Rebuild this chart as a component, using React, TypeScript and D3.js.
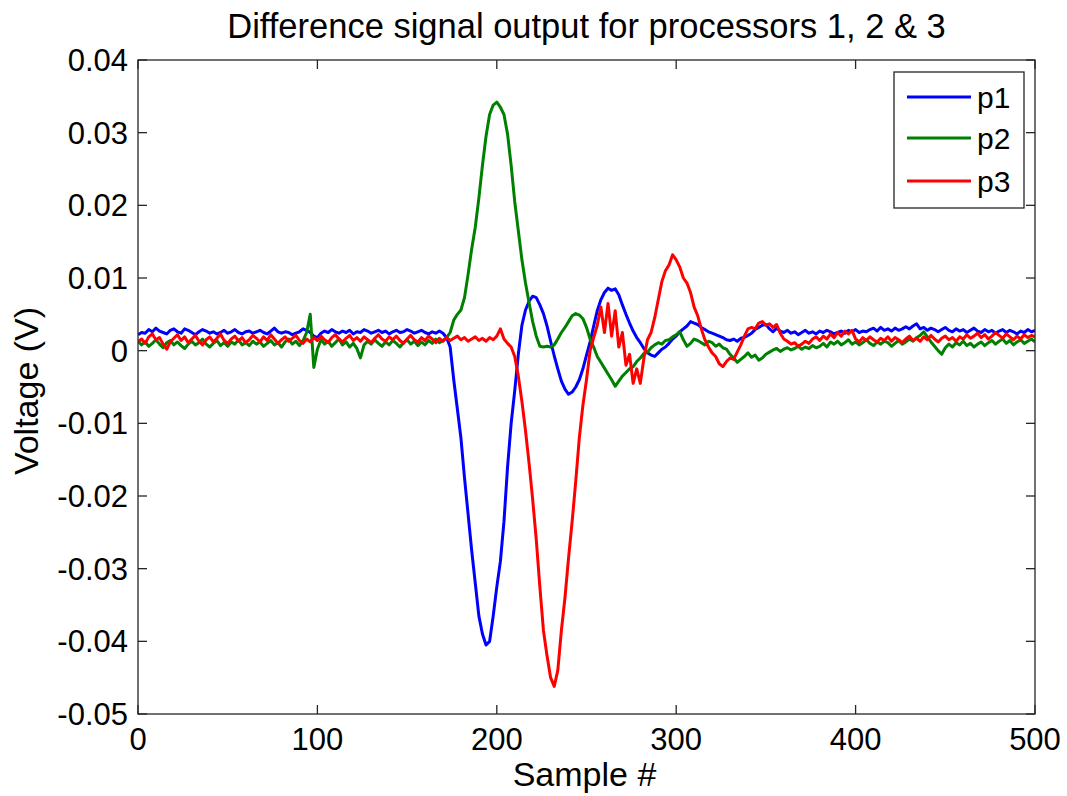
import React from "react";
import * as d3 from "d3";

// Sample step between stored values (sample #)
const sampleStep = 2;

// Voltages in mV, one value every 2 samples from 0 to 500
const p1 = [
  2.2,2.5,2.4,2.9,2.6,3.1,2.7,2.5,2.3,2.8,
  3.0,2.6,2.4,3.0,2.8,2.5,2.2,2.6,2.9,2.7,
  2.4,2.6,2.3,2.5,2.8,2.4,2.6,2.9,2.5,2.3,
  2.6,2.7,2.4,2.6,2.8,2.5,2.3,2.7,3.1,2.6,
  2.4,2.6,2.5,2.2,2.4,2.6,3.0,2.8,2.5,2.0,
  1.8,2.4,2.7,2.5,2.9,2.6,2.4,2.7,2.5,2.8,
  2.3,2.6,2.5,2.9,2.7,2.4,2.6,2.8,2.5,2.7,
  2.3,2.6,2.8,2.5,2.6,2.9,2.7,2.4,2.6,2.8,
  2.5,2.3,2.6,2.4,2.7,2.4,1.8,0.5,-4,-8,
  -12,-17.5,-22.5,-27.5,-32,-36.5,-39,-40.5,-40,-36.5,
  -32.5,-29,-23.5,-16,-10,-5.5,-0.5,3.5,5.6,6.8,
  7.5,7.3,6.3,5.1,3.4,1.3,-0.7,-2.5,-4.2,-5.3,
  -6,-5.7,-5,-4,-2.5,-0.6,1.2,3.4,5.5,7.0,
  8.0,8.6,8.3,8.5,7.7,6.3,5,3.8,2.7,1.8,
  1.1,0.3,-0.3,-0.6,-0.8,-0.3,0.2,0.5,1.0,1.6,
  2.0,2.6,3.0,3.4,4.0,3.8,3.6,3.2,2.9,2.6,
  2.4,2.2,2.0,1.8,1.5,1.4,1.6,1.3,1.7,1.8,
  2.1,2.4,2.9,3.2,3.5,3.6,3.0,2.6,3.1,2.7,
  2.5,2.8,2.4,2.6,2.2,2.5,2.8,2.4,2.6,2.3,
  2.7,2.5,2.8,2.6,2.3,2.5,2.7,2.4,2.8,2.6,
  2.9,2.5,2.7,2.6,2.9,3.1,2.7,3.2,2.8,3.0,
  2.7,3.1,2.8,3.0,3.3,3.0,3.4,3.7,3.0,3.2,
  2.8,3.1,2.9,2.6,2.9,3.2,2.8,2.6,3.0,2.7,
  2.9,2.5,2.8,3.1,2.7,2.5,2.9,2.6,2.8,2.4,
  2.7,2.9,2.5,2.8,2.6,2.3,2.7,2.5,2.9,2.6,
  2.8,
];

const p2 = [
  1.3,0.8,1.2,0.6,1.0,1.5,0.9,0.4,1.1,1.4,
  0.8,1.2,0.7,0.3,0.9,1.3,0.8,1.1,1.6,0.9,
  0.5,1.0,1.4,0.7,1.1,0.6,1.2,0.9,1.5,0.8,
  1.1,0.7,1.3,0.9,1.2,0.6,1.0,1.4,0.8,1.1,
  0.5,1.2,1.6,0.9,1.3,0.7,1.4,2.5,5.0,-2.3,
  0.2,1.5,0.9,1.3,0.6,1.1,1.6,0.8,1.2,0.5,
  1.0,0.3,-1.0,0.8,1.3,0.9,1.5,1.0,0.6,1.2,
  0.8,1.4,1.0,0.5,1.1,1.5,0.9,1.3,0.7,1.2,
  0.8,1.4,1.0,1.6,1.1,1.4,1.8,2.5,4.2,5.0,
  5.6,7.3,10.5,14.0,17.0,21.0,25.5,29.5,32.5,33.8,
  34.2,33.5,32.5,29.8,25.5,20.5,16.5,12.5,9.3,6.6,
  4.0,2.0,0.6,0.5,0.6,0.5,0.8,1.6,2.5,3.2,
  4.0,4.8,5.1,4.9,4.4,3.2,1.6,0.5,-0.8,-1.6,
  -2.4,-3.2,-4.0,-4.9,-4.2,-3.5,-3.0,-2.5,-2.2,-1.5,
  -1.0,-0.4,-0.2,0.4,0.8,1.1,0.9,1.4,1.5,1.9,
  2.2,2.6,1.5,0.6,1.0,1.6,1.4,1.1,0.8,1.3,
  1.1,0.6,0.9,0.4,0.2,-0.5,-1.0,-1.6,-1.2,-0.8,
  -0.3,-0.9,-0.6,-1.3,-1.0,-0.5,-0.2,0.1,0.3,-0.1,
  0.2,0.4,0.1,0.3,0.6,0.2,0.5,0.3,0.7,0.4,
  0.6,1.0,0.5,1.2,0.9,1.3,0.8,1.1,1.5,0.9,
  1.2,0.8,1.1,1.5,1.0,0.7,1.2,0.9,1.3,1.1,
  0.6,1.0,1.4,0.9,1.2,1.6,1.3,1.8,2.1,2.6,
  1.9,1.2,0.6,0.0,-0.5,0.4,0.9,0.5,1.1,0.8,
  1.3,0.7,1.0,0.5,0.9,1.2,0.7,1.1,1.4,0.9,
  1.3,1.6,1.0,1.4,0.8,1.2,1.5,1.0,1.3,1.6,
  1.2,
];

const p3 = [
  1.2,1.6,1.0,1.9,2.3,1.5,1.8,0.9,0.2,1.2,
  1.7,2.2,1.4,1.9,1.1,1.6,2.1,1.3,0.8,1.5,
  1.9,1.2,1.7,2.3,1.4,1.0,1.6,2.0,1.3,1.8,
  1.1,1.5,2.1,1.7,1.2,1.9,1.4,2.2,1.6,1.0,
  1.5,1.9,1.3,1.7,2.1,1.4,1.0,1.6,1.2,1.8,
  1.4,2.0,1.5,1.1,1.8,2.2,1.6,1.2,1.7,2.1,
  1.4,1.8,1.3,1.9,1.5,1.1,1.7,2.2,1.6,1.3,
  1.9,1.5,2.0,1.4,1.0,1.6,2.1,1.5,1.2,1.8,
  1.4,2.0,1.6,1.1,1.7,1.3,1.8,1.4,1.7,2.0,
  1.5,1.8,1.3,1.6,1.9,1.4,1.7,1.3,1.8,1.5,
  2.0,3.0,1.6,1.0,0.5,-0.8,-3.5,-7.0,-11.0,-15.5,
  -20.5,-26.0,-32.5,-38.5,-42.0,-45.0,-46.2,-44.0,-38.5,-34.0,
  -28.5,-23.5,-18.0,-12.0,-7.5,-4.0,0.0,1.8,3.5,6.0,
  2.5,6.5,2.0,5.5,0.5,2.5,-2.0,-0.5,-4.5,-2.5,
  -4.5,-1.0,1.5,2.5,4.5,7.0,9.5,11.0,11.8,13.2,
  12.5,11.5,10.0,9.3,8.0,6.0,4.8,3.0,1.5,0.5,
  -0.3,-0.8,-1.8,-2.2,-1.5,-1.0,-1.2,-0.2,0.8,2.0,
  3.0,3.2,3.0,3.8,4.0,3.5,3.7,3.2,3.6,2.4,
  1.6,1.3,0.9,1.1,0.6,0.9,1.3,1.0,1.6,1.9,
  1.4,2.0,1.6,2.3,1.8,2.5,2.0,2.7,2.3,2.8,
  1.6,1.2,1.8,1.4,1.9,1.5,1.2,1.7,1.4,1.9,
  1.3,1.8,1.5,1.1,1.6,2.0,1.4,1.7,1.3,1.9,
  1.5,2.1,1.6,1.2,1.7,2.0,1.5,1.8,1.3,1.9,
  1.6,2.2,1.7,2.0,2.4,1.8,2.2,1.6,2.0,2.5,
  2.1,1.7,2.3,1.9,1.5,2.0,1.6,2.2,1.8,2.1,
  1.9,
];

const seriesNames = ["p1", "p2", "p3"];
const seriesColors = ["#0000ff", "#008000", "#ff0000"];
const seriesData = [p1, p2, p3];

const xTicks = [0, 100, 200, 300, 400, 500];
const yTicks = [0.04, 0.03, 0.02, 0.01, 0, -0.01, -0.02, -0.03, -0.04, -0.05];
const yTickLabels = ["0.04", "0.03", "0.02", "0.01", "0", "-0.01", "-0.02", "-0.03", "-0.04", "-0.05"];

const titleText = "Difference signal output for processors 1, 2 & 3";
const xLabel = "Sample #";
const yLabel = "Voltage (V)";

export default function App() {
  const W = 1067, H = 796;
  const L = 138, R = 1035, T = 60, B = 714;
  const x = d3.scaleLinear().domain([0, 500]).range([L, R]);
  const y = d3.scaleLinear().domain([-0.05, 0.04]).range([B, T]);
  const font = "'Liberation Sans', Arial, Helvetica, sans-serif";
  const axisColor = "#262626";
  const tickLen = 9;

  const line = d3
    .line<number>()
    .x((_, i) => x(i * sampleStep))
    .y((v) => y(v / 1000));

  const legend = { x0: 894, y0: 72, x1: 1024, y1: 208, rows: [97, 138, 181], lx0: 907, lx1: 971, tx: 977 };

  return (
    <svg
      width={W}
      height={H}
      style={{ position: "absolute", left: 0, top: 0, background: "#fff" }}
      fontFamily={font}
    >
      <rect x={0} y={0} width={W} height={H} fill="#fff" />
      <defs>
        <clipPath id="plotclip">
          <rect x={L} y={T} width={R - L} height={B - T} />
        </clipPath>
      </defs>
      {/* series */}
      <g clipPath="url(#plotclip)">
        {seriesData.map((d, k) => (
          <path
            key={seriesNames[k]}
            d={line(d) || ""}
            fill="none"
            stroke={seriesColors[k]}
            strokeWidth={3}
            strokeLinejoin="round"
          />
        ))}
      </g>
      {/* frame */}
      <rect x={L} y={T} width={R - L} height={B - T} fill="none" stroke={axisColor} strokeWidth={1.3} />
      {/* x ticks */}
      {xTicks.map((t) => (
        <g key={"xt" + t}>
          <line x1={x(t)} x2={x(t)} y1={B} y2={B - tickLen} stroke={axisColor} strokeWidth={1.3} />
          <line x1={x(t)} x2={x(t)} y1={T} y2={T + tickLen} stroke={axisColor} strokeWidth={1.3} />
          <text x={x(t)} y={750} textAnchor="middle" fontSize={31} fill="#000">
            {t}
          </text>
        </g>
      ))}
      {/* y ticks */}
      {yTicks.map((t, i) => (
        <g key={"yt" + i}>
          <line x1={L} x2={L + tickLen} y1={y(t)} y2={y(t)} stroke={axisColor} strokeWidth={1.3} />
          <line x1={R} x2={R - tickLen} y1={y(t)} y2={y(t)} stroke={axisColor} strokeWidth={1.3} />
          <text x={128} y={y(t)} dy="0.36em" textAnchor="end" fontSize={31} fill="#000">
            {yTickLabels[i]}
          </text>
        </g>
      ))}
      {/* title & labels */}
      <text x={(L + R) / 2} y={38} textAnchor="middle" fontSize={34.5} fill="#000">
        {titleText}
      </text>
      <text x={(L + R) / 2 - 2} y={786} textAnchor="middle" fontSize={34} fill="#000">
        {xLabel}
      </text>
      <text
        transform={`translate(38, 391) rotate(-90)`}
        textAnchor="middle"
        fontSize={34}
        fill="#000"
      >
        {yLabel}
      </text>
      {/* legend */}
      <rect
        x={legend.x0}
        y={legend.y0}
        width={legend.x1 - legend.x0}
        height={legend.y1 - legend.y0}
        fill="#fff"
        stroke={axisColor}
        strokeWidth={1.3}
      />
      {seriesNames.map((n, k) => (
        <g key={"lg" + n}>
          <line
            x1={legend.lx0}
            x2={legend.lx1}
            y1={legend.rows[k]}
            y2={legend.rows[k]}
            stroke={seriesColors[k]}
            strokeWidth={3}
          />
          <text x={legend.tx} y={legend.rows[k]} dy="0.36em" fontSize={30} fill="#000">
            {n}
          </text>
        </g>
      ))}
    </svg>
  );
}
